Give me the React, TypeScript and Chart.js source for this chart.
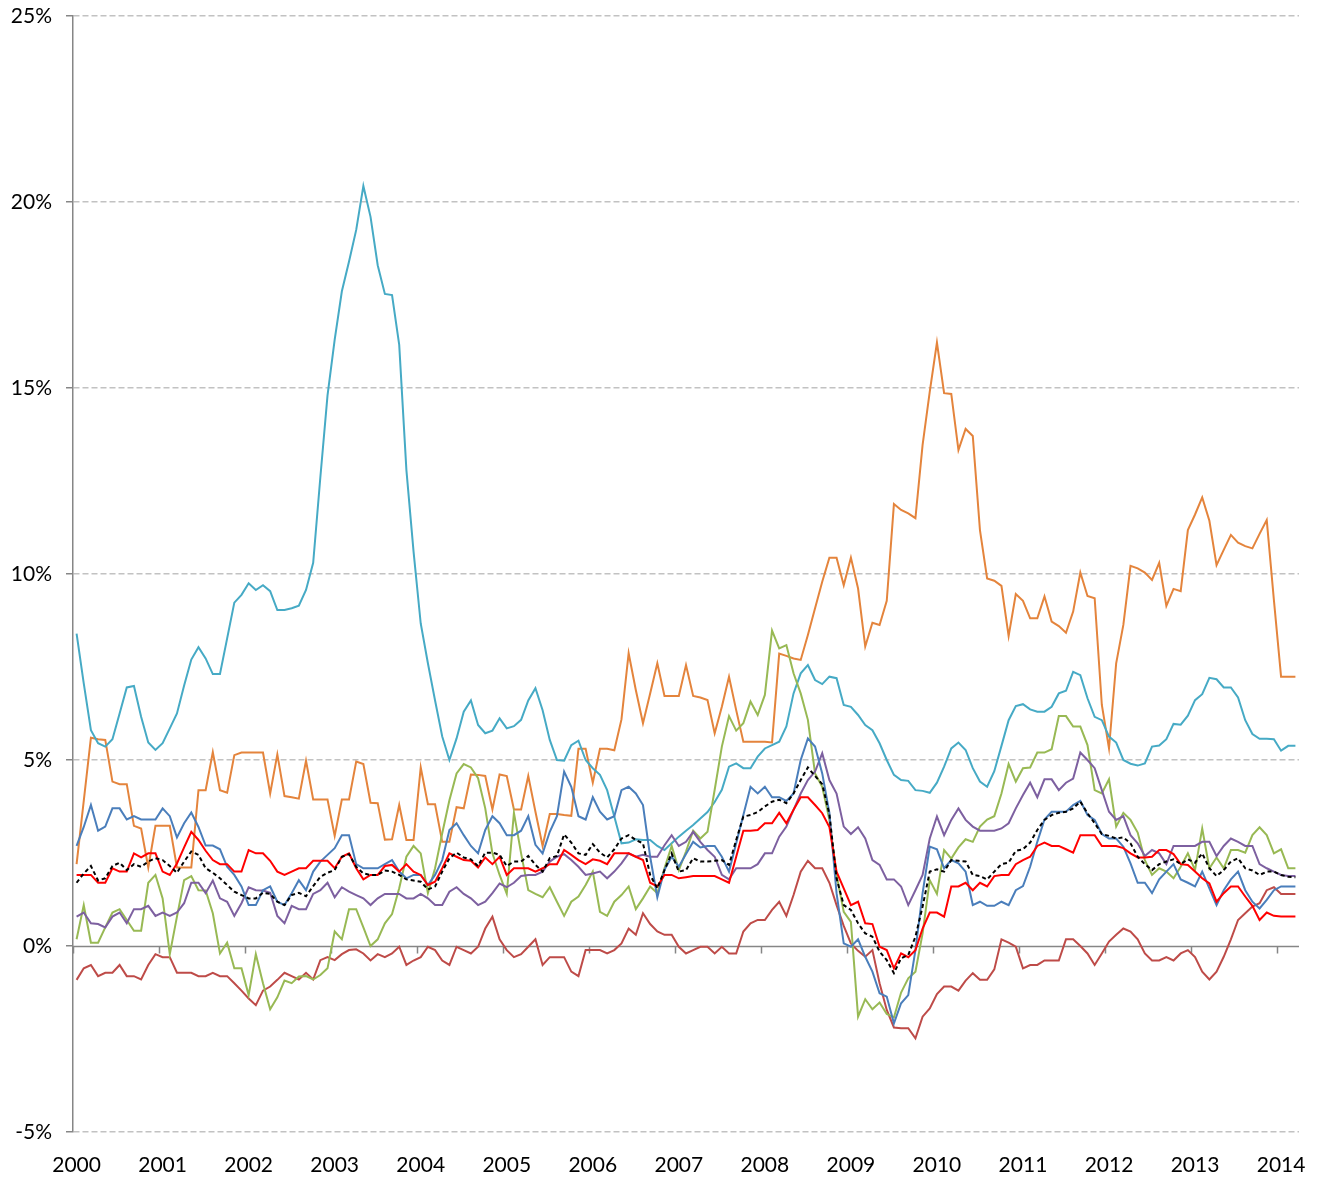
import React, { useEffect, useRef } from 'react';
import { Chart, registerables } from 'chart.js';

Chart.register(...registerables);

// Monthly observations, Jan 2000 – Mar 2014 (171 months)
const years = ['2000', '2001', '2002', '2003', '2004', '2005', '2006', '2007', '2008', '2009', '2010', '2011', '2012', '2013', '2014'];
const monthsInLastYear = 3;
const categories: string[] = [];
years.forEach((yr, yi) => {
  const n = yi === years.length - 1 ? monthsInLastYear : 12;
  for (let m = 1; m <= n; m++) categories.push(`${yr}-${String(m).padStart(2, '0')}`);
});

const yTickValues = [-5, 0, 5, 10, 15, 20, 25];

const cyanSeries = [
  8.4, 7.06, 5.8, 5.45, 5.36, 5.56, 6.25, 6.95, 6.99, 6.16, 5.47, 5.27,
  5.45, 5.85, 6.25, 7.0, 7.7, 8.03, 7.73, 7.31, 7.31, 8.27, 9.23, 9.44,
  9.75, 9.57, 9.7, 9.54, 9.03, 9.03, 9.08, 9.15, 9.57, 10.3, 12.6, 14.8,
  16.3, 17.6, 18.4, 19.25, 20.43, 19.6, 18.3, 17.53, 17.5, 16.16, 12.8, 10.6,
  8.67, 7.6, 6.6, 5.63, 5.0, 5.58, 6.3, 6.6, 5.94, 5.72, 5.79, 6.12,
  5.85, 5.91, 6.08, 6.6, 6.93, 6.34, 5.54, 5.0, 4.98, 5.4, 5.52, 5.0,
  4.78, 4.6, 4.19, 3.48, 2.76, 2.78, 2.87, 2.85, 2.85, 2.69, 2.58, 2.76,
  2.94, 3.1, 3.25, 3.43, 3.6, 3.87, 4.2, 4.82, 4.91, 4.78, 4.78, 5.09,
  5.31, 5.4, 5.49, 5.9, 6.79, 7.33, 7.55, 7.15, 7.04, 7.24, 7.2, 6.48,
  6.43, 6.21, 5.94, 5.8, 5.45, 5.0, 4.6, 4.46, 4.44, 4.19, 4.17, 4.12,
  4.39, 4.82, 5.31, 5.47, 5.27, 4.78, 4.42, 4.28, 4.7, 5.38, 6.07, 6.45,
  6.5, 6.36, 6.3, 6.3, 6.43, 6.79, 6.86, 7.37, 7.28, 6.66, 6.16, 6.07,
  5.63, 5.47, 5.0, 4.9, 4.85, 4.91, 5.36, 5.39, 5.56, 5.97, 5.95, 6.19,
  6.61, 6.77, 7.21, 7.17, 6.95, 6.95, 6.68, 6.07, 5.7, 5.57, 5.57, 5.56,
  5.25, 5.38, 5.38,
];

const orangeSeries = [
  2.2, 3.9, 5.6, 5.56, 5.54, 4.42, 4.35, 4.35, 3.23, 3.16, 2.11, 3.23,
  3.23, 3.23, 2.11, 2.11, 2.11, 4.19, 4.19, 5.21, 4.19, 4.12, 5.13, 5.2,
  5.2, 5.2, 5.2, 4.1, 5.15, 4.03, 4.0, 3.96, 4.98, 3.94, 3.94, 3.94,
  2.96, 3.94, 3.94, 4.96, 4.89, 3.85, 3.84, 2.86, 2.87, 3.79, 2.85, 2.85,
  4.8, 3.81, 3.81, 2.8, 2.8, 3.73, 3.7, 4.61, 4.6, 4.57, 3.67, 4.61,
  4.57, 3.67, 3.67, 4.57, 3.61, 2.69, 3.55, 3.55, 3.52, 3.5, 5.3, 5.3,
  4.39, 5.3, 5.3, 5.26, 6.09, 7.87, 6.88, 5.99, 6.79, 7.6, 6.72, 6.72,
  6.72, 7.55, 6.72, 6.68, 6.61, 5.72, 6.43, 7.24, 6.34, 5.49, 5.49, 5.49,
  5.49, 5.47, 7.86, 7.8, 7.73, 7.69, 8.36, 9.08, 9.79, 10.44, 10.44, 9.7,
  10.44, 9.61, 8.05, 8.69, 8.63, 9.28, 11.88, 11.72, 11.63, 11.5, 13.47, 14.9,
  16.22, 14.86, 14.84, 13.33, 13.9, 13.71, 11.18, 9.88, 9.82, 9.68, 8.33, 9.46,
  9.28, 8.81, 8.81, 9.4, 8.72, 8.6, 8.42, 8.99, 10.04, 9.41, 9.35, 6.48,
  5.31, 7.6, 8.63, 10.22, 10.15, 10.04, 9.84, 10.3, 9.14, 9.6, 9.54, 11.18,
  11.6, 12.06, 11.43, 10.24, 10.65, 11.05, 10.84, 10.75, 10.69, 11.08, 11.45, 9.3,
  7.24, 7.24, 7.24,
];

const blueSeries = [
  2.69, 3.2, 3.79, 3.1, 3.21, 3.7, 3.7, 3.4, 3.49, 3.4, 3.4, 3.4,
  3.7, 3.49, 2.92, 3.3, 3.59, 3.2, 2.7, 2.7, 2.6, 2.13, 1.91, 1.6,
  1.1, 1.1, 1.5, 1.6, 1.19, 1.1, 1.42, 1.77, 1.5, 2.0, 2.27, 2.45,
  2.63, 2.98, 2.98, 2.2, 2.09, 2.09, 2.09, 2.2, 2.31, 2.0, 1.82, 1.91,
  1.91, 1.64, 1.91, 2.31, 3.12, 3.3, 2.98, 2.69, 2.49, 3.12, 3.49, 3.3,
  2.98, 2.98, 3.1, 3.49, 2.72, 2.49, 3.07, 3.49, 4.69, 4.28, 3.49, 3.4,
  4.0, 3.61, 3.4, 3.49, 4.19, 4.28, 4.1, 3.79, 2.4, 1.31, 2.05, 2.4,
  2.13, 2.47, 2.8, 2.65, 2.69, 2.69, 2.4, 2.0, 2.76, 3.52, 4.28, 4.1,
  4.28, 4.0, 4.0, 3.9, 4.1, 5.0, 5.58, 5.36, 4.64, 3.58, 1.42, 0.07,
  -0.02, 0.18, -0.29, -0.69, -1.27, -1.36, -2.08, -1.54, -1.32, -0.11, 1.42, 2.67,
  2.6, 2.09, 2.31, 2.22, 2.0, 1.1, 1.19, 1.08, 1.08, 1.19, 1.1, 1.5,
  1.61, 2.13, 2.8, 3.4, 3.61, 3.61, 3.61, 3.79, 3.9, 3.52, 3.39, 3.01,
  2.89, 2.89, 2.67, 2.22, 1.7, 1.7, 1.42, 1.79, 2.0, 2.2, 1.79, 1.7,
  1.6, 2.0, 1.55, 1.1, 1.5, 1.79, 2.0, 1.5, 1.19, 1.01, 1.24, 1.5,
  1.6, 1.6, 1.6,
];

const redSeries = [
  1.91, 1.91, 1.91, 1.7, 1.7, 2.09, 2.0, 2.0, 2.49, 2.38, 2.49, 2.49,
  2.0, 1.91, 2.22, 2.65, 3.07, 2.85, 2.56, 2.31, 2.2, 2.2, 2.0, 2.0,
  2.58, 2.49, 2.49, 2.29, 2.0, 1.91, 2.0, 2.09, 2.09, 2.29, 2.29, 2.29,
  2.09, 2.4, 2.49, 2.09, 1.79, 1.91, 1.91, 2.15, 2.18, 2.0, 2.2, 2.0,
  1.91, 1.64, 1.73, 2.09, 2.49, 2.4, 2.31, 2.29, 2.11, 2.38, 2.2, 2.4,
  1.91, 2.09, 2.09, 2.09, 2.0, 2.09, 2.2, 2.2, 2.58, 2.45, 2.31, 2.2,
  2.33, 2.29, 2.2, 2.49, 2.49, 2.49, 2.4, 2.31, 1.7, 1.6, 1.91, 1.91,
  1.82, 1.85, 1.88, 1.88, 1.88, 1.88, 1.79, 1.7, 2.4, 3.1, 3.1, 3.12,
  3.3, 3.3, 3.58, 3.3, 3.66, 4.0, 4.0, 3.79, 3.57, 3.2, 2.0, 1.55,
  1.1, 1.19, 0.61, 0.59, -0.02, -0.11, -0.6, -0.2, -0.3, -0.11, 0.47, 0.9,
  0.9, 0.79, 1.6, 1.6, 1.7, 1.5, 1.7, 1.6, 1.88, 1.91, 1.91, 2.2,
  2.31, 2.4, 2.69, 2.78, 2.69, 2.69, 2.6, 2.51, 2.98, 2.98, 2.98, 2.69,
  2.69, 2.69, 2.63, 2.49, 2.38, 2.38, 2.4, 2.58, 2.58, 2.47, 2.2, 2.18,
  2.0, 1.82, 1.68, 1.19, 1.42, 1.6, 1.6, 1.33, 1.08, 0.7, 0.9, 0.81,
  0.79, 0.79, 0.79,
];

const averageSeries = [
  1.7, 1.95, 2.15, 1.76, 1.82, 2.15, 2.24, 2.04, 2.2, 2.13, 2.27, 2.36,
  2.31, 2.15, 1.97, 2.27, 2.54, 2.45, 2.09, 1.97, 1.82, 1.64, 1.46, 1.37,
  1.28, 1.28, 1.43, 1.4, 1.19, 1.1, 1.37, 1.43, 1.34, 1.61, 1.86, 1.97,
  2.04, 2.4, 2.47, 2.13, 1.95, 1.91, 1.91, 2.03, 2.0, 1.91, 1.79, 1.76,
  1.73, 1.52, 1.6, 2.0, 2.36, 2.51, 2.38, 2.33, 2.15, 2.51, 2.51, 2.45,
  2.15, 2.27, 2.27, 2.42, 2.18, 2.0, 2.36, 2.42, 3.0, 2.78, 2.49, 2.45,
  2.74, 2.51, 2.38, 2.6, 2.89, 2.98, 2.85, 2.76, 1.91, 1.55, 2.04, 2.49,
  2.0, 2.04, 2.36, 2.27, 2.27, 2.29, 2.31, 2.18, 2.85, 3.48, 3.52, 3.6,
  3.75, 3.88, 3.93, 3.84, 4.1, 4.46, 4.8, 4.57, 4.35, 3.54, 1.82, 1.1,
  0.97, 0.61, 0.34, 0.25, -0.15, -0.38, -0.73, -0.33, -0.24, 0.25, 1.06, 2.0,
  2.06, 2.0, 2.31, 2.29, 2.27, 1.91, 1.88, 1.79, 2.0, 2.2, 2.24, 2.56,
  2.6, 2.78, 3.12, 3.39, 3.52, 3.58, 3.61, 3.7, 3.88, 3.57, 3.3, 3.01,
  2.96, 2.89, 2.92, 2.76, 2.4, 2.2, 2.04, 2.2, 2.27, 2.33, 2.2, 2.33,
  2.24, 2.49, 2.09, 1.88, 2.04, 2.27, 2.36, 2.09, 2.03, 1.91, 2.0, 2.0,
  1.91, 1.86, 1.85,
];

const purpleSeries = [
  0.79, 0.9, 0.61, 0.59, 0.5, 0.79, 0.9, 0.61, 0.99, 0.99, 1.08, 0.81,
  0.9, 0.81, 0.9, 1.15, 1.7, 1.7, 1.42, 1.76, 1.28, 1.19, 0.81, 1.15,
  1.58, 1.5, 1.49, 1.43, 0.81, 0.61, 1.08, 0.99, 0.99, 1.4, 1.5, 1.7,
  1.31, 1.58, 1.46, 1.37, 1.28, 1.1, 1.28, 1.4, 1.4, 1.4, 1.28, 1.28,
  1.4, 1.28, 1.1, 1.1, 1.46, 1.58, 1.4, 1.28, 1.1, 1.19, 1.42, 1.68,
  1.58, 1.7, 1.88, 1.91, 1.91, 2.0, 2.27, 2.4, 2.47, 2.31, 2.13, 1.91,
  1.95, 2.0, 1.82, 2.0, 2.22, 2.49, 2.4, 2.45, 2.4, 2.4, 2.71, 2.98,
  2.69, 2.8, 3.07, 2.8, 2.58, 2.4, 1.91, 1.79, 2.09, 2.09, 2.09, 2.2,
  2.49, 2.49, 2.94, 3.21, 3.66, 4.1, 4.46, 4.69, 5.18, 4.46, 4.1, 3.21,
  3.01, 3.19, 2.89, 2.31, 2.18, 1.79, 1.79, 1.6, 1.1, 1.5, 1.91, 2.89,
  3.48, 2.98, 3.39, 3.7, 3.39, 3.21, 3.1, 3.1, 3.1, 3.16, 3.3, 3.7,
  4.06, 4.39, 4.0, 4.48, 4.48, 4.19, 4.39, 4.5, 5.2, 5.0, 4.78, 4.19,
  3.61, 3.39, 3.49, 2.98, 2.76, 2.42, 2.58, 2.49, 2.2, 2.69, 2.69, 2.69,
  2.69, 2.8, 2.8, 2.42, 2.69, 2.89, 2.8, 2.69, 2.69, 2.2, 2.09, 2.0,
  1.91, 1.88, 1.88,
];

const greenSeries = [
  0.18, 1.1, 0.09, 0.09, 0.5, 0.9, 0.99, 0.7, 0.41, 0.41, 1.7, 1.91,
  1.28, -0.22, 0.79, 1.77, 1.88, 1.5, 1.49, 0.88, -0.2, 0.09, -0.6, -0.6,
  -1.32, -0.22, -1.0, -1.7, -1.38, -0.93, -1.0, -0.82, -0.81, -0.9, -0.78, -0.6,
  0.39, 0.18, 0.99, 0.99, 0.5, 0.0, 0.18, 0.61, 0.86, 1.55, 2.4, 2.69,
  2.49, 1.42, 2.09, 3.03, 3.92, 4.64, 4.89, 4.8, 4.51, 3.7, 2.49, 1.91,
  1.4, 3.58, 2.49, 1.5, 1.4, 1.31, 1.58, 1.19, 0.81, 1.19, 1.33, 1.64,
  2.0, 0.92, 0.81, 1.19, 1.37, 1.6, 0.99, 1.28, 1.6, 1.42, 2.09, 2.69,
  2.04, 2.54, 3.1, 2.89, 3.07, 4.2, 5.36, 6.18, 5.79, 5.99, 6.57, 6.21,
  6.75, 8.48, 8.0, 8.09, 7.33, 6.79, 6.08, 4.64, 4.28, 3.39, 1.91, 0.92,
  0.65, -1.9, -1.43, -1.7, -1.52, -1.83, -1.92, -1.25, -0.87, -0.69, 0.34, 1.77,
  1.4, 2.58, 2.35, 2.65, 2.87, 2.8, 3.21, 3.4, 3.49, 4.1, 4.89, 4.42,
  4.78, 4.8, 5.2, 5.2, 5.29, 6.18, 6.18, 5.9, 5.9, 5.4, 4.19, 4.1,
  4.48, 3.21, 3.58, 3.39, 3.05, 2.31, 1.91, 2.09, 2.0, 1.82, 2.13, 2.49,
  2.04, 3.16, 2.09, 2.38, 2.09, 2.58, 2.58, 2.51, 2.98, 3.19, 2.98, 2.49,
  2.6, 2.09, 2.09,
];

const darkRedSeries = [
  -0.91, -0.6, -0.51, -0.81, -0.72, -0.72, -0.51, -0.81, -0.81, -0.9, -0.51, -0.22,
  -0.3, -0.3, -0.72, -0.72, -0.72, -0.81, -0.81, -0.72, -0.81, -0.81, -1.0, -1.2,
  -1.41, -1.59, -1.2, -1.09, -0.91, -0.72, -0.81, -0.9, -0.72, -0.9, -0.38, -0.3,
  -0.38, -0.22, -0.11, -0.09, -0.2, -0.39, -0.22, -0.3, -0.2, -0.02, -0.51, -0.39,
  -0.3, -0.02, -0.11, -0.39, -0.51, -0.02, -0.11, -0.2, -0.02, 0.47, 0.79, 0.18,
  -0.11, -0.3, -0.22, -0.02, 0.18, -0.51, -0.3, -0.3, -0.3, -0.69, -0.81, -0.11,
  -0.11, -0.11, -0.2, -0.11, 0.07, 0.47, 0.3, 0.88, 0.59, 0.39, 0.3, 0.3,
  -0.02, -0.2, -0.11, -0.02, -0.02, -0.2, -0.02, -0.2, -0.2, 0.39, 0.61, 0.7,
  0.7, 0.97, 1.19, 0.81, 1.37, 2.0, 2.29, 2.09, 2.09, 1.7, 1.1, 0.54,
  0.07, -0.13, -0.29, -0.11, -1.0, -1.72, -2.19, -2.21, -2.21, -2.48, -1.9, -1.68,
  -1.29, -1.09, -1.09, -1.2, -0.93, -0.73, -0.91, -0.91, -0.63, 0.18, 0.09, -0.02,
  -0.6, -0.51, -0.51, -0.39, -0.39, -0.39, 0.18, 0.18, 0.0, -0.2, -0.51, -0.2,
  0.12, 0.3, 0.47, 0.39, 0.18, -0.2, -0.39, -0.39, -0.3, -0.39, -0.2, -0.11,
  -0.3, -0.69, -0.9, -0.69, -0.29, 0.18, 0.7, 0.88, 1.06, 1.15, 1.5, 1.58,
  1.4, 1.4, 1.4,
];

const AXIS_GREY = '#868686';
const FONT = { family: 'Lato, Carlito, "Liberation Sans", sans-serif', size: 21 };

const zeroAxisPlugin = {
  id: 'zeroAxis',
  beforeDatasetsDraw(chart: any) {
    const { ctx, chartArea, scales } = chart;
    const x = scales.x;
    const y = scales.y;
    const y0 = Math.round(y.getPixelForValue(0)) + 0.5;
    const half = (x.getPixelForValue(1) - x.getPixelForValue(0)) / 2;
    ctx.save();
    ctx.strokeStyle = AXIS_GREY;
    ctx.lineWidth = 1.5;
    ctx.setLineDash([]);
    ctx.beginPath();
    ctx.moveTo(chartArea.left, y0);
    ctx.lineTo(chartArea.right, y0);
    categories.forEach((_, i) => {
      if (i % 12 === 0) {
        const xp = Math.round(x.getPixelForValue(i) - half) + 0.5;
        ctx.moveTo(xp, y0);
        ctx.lineTo(xp, y0 + 7);
      }
    });
    ctx.stroke();
    ctx.restore();
  },
};

function line(label: string, data: number[], color: string, dash?: number[]) {
  return {
    label,
    data,
    borderColor: color,
    backgroundColor: color,
    borderWidth: 2,
    borderDash: dash || [],
    pointRadius: 0,
    tension: 0,
    fill: false,
  };
}

export default function App() {
  const canvasRef = useRef<HTMLCanvasElement>(null);

  useEffect(() => {
    document.body.style.margin = '0';
    const canvas = canvasRef.current;
    if (!canvas) return;
    const chart = new Chart(canvas, {
      type: 'line',
      data: {
        labels: categories,
        datasets: [
          line('Average', averageSeries, '#000000', [4, 3]),
          line('Red', redSeries, '#FF0000'),
          line('Blue', blueSeries, '#4A7EBB'),
          line('Purple', purpleSeries, '#7D60A0'),
          line('Green', greenSeries, '#98B954'),
          line('Dark red', darkRedSeries, '#BE4B48'),
          line('Cyan', cyanSeries, '#46AAC5'),
          line('Orange', orangeSeries, '#E4843C'),
        ] as any,
      },
      options: {
        responsive: false,
        animation: false,
        devicePixelRatio: 1,
        layout: { padding: { top: 16, right: 23, bottom: 0, left: 0 } },
        plugins: {
          legend: { display: false },
          tooltip: { enabled: false },
          title: { display: false },
        },
        scales: {
          x: {
            type: 'category',
            offset: true,
            grid: { display: false },
            border: { display: false },
            ticks: {
              autoSkip: false,
              maxRotation: 0,
              minRotation: 0,
              padding: 13,
              color: '#000000',
              font: FONT,
              callback: (_v: any, i: number) => (i % 12 === 0 ? categories[i].slice(0, 4) : ''),
            },
            afterFit: (s: any) => {
              s.height = 45;
              s.paddingLeft = 0;
              s.paddingRight = 0;
            },
          },
          y: {
            min: yTickValues[0],
            max: yTickValues[yTickValues.length - 1],
            afterBuildTicks: (s: any) => {
              s.ticks = yTickValues.map((v) => ({ value: v }));
            },
            ticks: {
              padding: 14,
              color: '#000000',
              font: FONT,
              callback: (v: any) => `${v}%`,
            },
            grid: {
              color: (c: any) => (c.tick && c.tick.value === 0 ? 'rgba(0,0,0,0)' : '#C2C2C2'),
              lineWidth: 1.5,
              tickColor: AXIS_GREY,
              tickLength: 7,
              tickWidth: 1.5,
              tickBorderDash: [],
            },
            border: { display: true, color: AXIS_GREY, width: 1.5, dash: [6, 3] },
            afterFit: (s: any) => {
              s.width = 73;
              s.paddingTop = 0;
              s.paddingBottom = 0;
            },
          },
        },
      } as any,
      plugins: [zeroAxisPlugin],
    });
    return () => chart.destroy();
  }, []);

  return (
    <div style={{ width: 1322, height: 1177 }}>
      <canvas ref={canvasRef} width={1322} height={1177} style={{ display: 'block' }} />
    </div>
  );
}
